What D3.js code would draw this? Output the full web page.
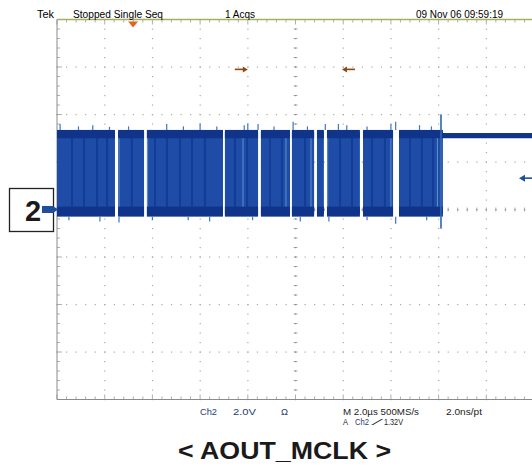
<!DOCTYPE html>
<html><head><meta charset="utf-8">
<script src="https://cdn.jsdelivr.net/npm/d3@7"></script>
<style>body{margin:0;background:#fff}svg{display:block}</style>
</head><body>
<svg id="c" width="532" height="467"></svg>
<script>
// ---- data ----
const timePerDiv = 2.0;          // µs/div
const voltsPerDiv = 2.0;         // V/div
const hDivs = 10, vDivs = 8;
// burst segments of the clock signal [start µs, end µs]
const bursts = [[0,2.43],[2.56,3.65],[3.77,6.96],[7.04,8.43],[8.55,9.77],[9.85,10.78],[10.90,11.19],[11.32,12.70],[12.83,14.09],[14.34,16.18]];
const highLevel = 3.25, lowLevel = -0.2;            // V
const highBand = [3.0, 3.35], lowBand = [-0.3, 0.12]; // noisy edge bands (V)
const idleLevel = [3.0, 3.22];                      // flat level after burst
const idleStart = 16.18;
// darker stripes (clustered edges) inside the bursts, µs
const stripes = [0.63,1.13,1.68,2.10,3.14,4.11,4.61,5.16,5.66,6.20,7.46,7.97,8.93,9.43,10.40,11.87,12.37,13.21,13.75,14.80,15.30,15.77];
// light streaks, µs
const lightStreaks = [2.60,3.80,7.80,9.60,10.65,11.35,14.00,15.95];
// overshoot spikes [µs, V]
const topSpikes = [[0.13,3.6],[0.9,3.5],[1.5,3.55],[2.2,3.48],[3.0,3.5],[4.6,3.6],[5.3,3.5],[6.0,3.62],[6.7,3.5],[7.85,3.55],[8.0,3.62],[8.43,3.6],[9.1,3.5],[9.9,3.7],[10.5,3.5],[11.25,3.6],[11.8,3.6],[12.15,3.55],[13.0,3.5],[14.0,3.6],[14.2,3.7],[15.2,3.55],[15.7,3.5],[16.1,4.0],[17.2,3.35],[18.6,3.35]];
const botSpikes = [[0.5,-0.45],[1.8,-0.5],[2.6,-0.55],[4.0,-0.45],[5.5,-0.45],[6.4,-0.5],[8.2,-0.45],[10.2,-0.5],[11.4,-0.5],[13.0,-0.45],[14.2,-0.6],[15.5,-0.45],[16.1,-0.8]];
const trigTime = 3.19;          // trigger position marker (µs)
const trigLevel = 1.32;         // V
const cursorArrows = [{t:8.0, v:5.9, dir:1},{t:11.95, v:5.9, dir:-1}];
const header = [
  {text:"Tek", x1:37, x2:54},
  {text:"Stopped  Single Seq", x1:73, x2:163},
  {text:"1 Acqs", x1:225, x2:255},
  {text:"09 Nov 06 09:59:19", x1:416, x2:503}
];
const footer1 = [
  {text:"Ch2", x1:200, x2:217, c:"#1f3c74"},
  {text:"2.0V", x1:233, x2:256, c:"#1f3c74"},
  {text:"Ω", x1:281, x2:288, c:"#1f3c74"},
  {text:"M 2.0µs 500MS/s", x1:343, x2:419, c:"#222"},
  {text:"2.0ns/pt", x1:446, x2:482, c:"#222"}
];
const footer2 = [
  {text:"A", x1:343, x2:348, c:"#222"},
  {text:"Ch2", x1:355, x2:369, c:"#1f3c74"},
  {text:"⁄", x1:376, x2:380, c:"#222"},
  {text:"1.32V", x1:384, x2:403, c:"#222"}
];
const title = "< AOUT_MCLK >";
const channelLabel = "2";

// ---- scales ----
const L = 57, T = 19.5, W = 477, H = 380;
const x = d3.scaleLinear().domain([0, hDivs*timePerDiv]).range([L, L+W]);
const y = d3.scaleLinear().domain([-vDivs/2*voltsPerDiv, vDivs/2*voltsPerDiv]).range([T+H, T]);
const svg = d3.select("#c");
const narrow = "'Liberation Sans Narrow','Arial Narrow','Liberation Sans',Arial,sans-serif";

// ---- graticule ----
const g = svg.append("g");
const dotCol = "#a8a8a8";
const xs = d3.range(0, hDivs*timePerDiv + 0.001, timePerDiv/5);
const ys = d3.range(-vDivs/2*voltsPerDiv, vDivs/2*voltsPerDiv + 0.001, voltsPerDiv/5);
d3.range(-3,4).forEach(k => {
  const v = k*voltsPerDiv;
  if (k===0) return;
  g.selectAll(null).data(xs).join("rect")
    .attr("x", d=>x(d)-0.5).attr("y", y(v)-0.5).attr("width",1.2).attr("height",1.2).attr("fill",dotCol);
});
d3.range(1,10).forEach(k => {
  const t = k*timePerDiv;
  if (k===5) return;
  g.selectAll(null).data(ys).join("rect")
    .attr("x", x(t)-0.5).attr("y", d=>y(d)-0.5).attr("width",1.2).attr("height",1.2).attr("fill",dotCol);
});
g.selectAll(null).data(xs).join("line")
  .attr("x1",d=>x(d)).attr("x2",d=>x(d)).attr("y1",y(0)-2).attr("y2",y(0)+2)
  .attr("stroke","#9a9a9a").attr("stroke-width",0.8);
g.selectAll(null).data(ys).join("line")
  .attr("y1",d=>y(d)).attr("y2",d=>y(d)).attr("x1",x(10)-2).attr("x2",x(10)+2)
  .attr("stroke","#9a9a9a").attr("stroke-width",0.8);
g.selectAll(null).data(xs).join("rect")
  .attr("x", d=>x(d)-0.5).attr("y", y(0)-0.5).attr("width",1.2).attr("height",1.2).attr("fill","#888");
g.selectAll(null).data(d3.range(-8,8.01,0.4)).join("rect")
  .attr("x", x(10)-0.5).attr("y", d=>y(d)-0.5).attr("width",1.2).attr("height",1.2).attr("fill","#888");
g.selectAll(null).data(xs).join("line")
  .attr("x1",d=>x(d)).attr("x2",d=>x(d)).attr("y1",y(-8)).attr("y2",d=> y(-8)-((Math.round(d/0.4))%5===0?5:3))
  .attr("stroke","#999").attr("stroke-width",0.8);
g.selectAll(null).data(xs).join("line")
  .attr("x1",d=>x(d)).attr("x2",d=>x(d)).attr("y1",y(8)).attr("y2",d=> y(8)+((Math.round(d/0.4))%5===0?5:3))
  .attr("stroke","#999").attr("stroke-width",0.8);
g.selectAll(null).data(ys).join("line")
  .attr("y1",d=>y(d)).attr("y2",d=>y(d)).attr("x1",x(0)).attr("x2",d=> x(0)+((Math.round((d+8)/0.4))%5===0?5:3))
  .attr("stroke","#999").attr("stroke-width",0.8);
g.append("line").attr("x1",x(0)).attr("x2",x(0)).attr("y1",y(8)).attr("y2",y(-8)).attr("stroke","#8a8a8a").attr("stroke-width",1);
g.append("line").attr("x1",x(0)).attr("x2",x(20)).attr("y1",y(-8)).attr("y2",y(-8)).attr("stroke","#8a8a8a").attr("stroke-width",1);
g.append("line").attr("x1",x(0)).attr("x2",532).attr("y1",y(8)).attr("y2",y(8)).attr("stroke","#a4b060").attr("stroke-width",1.6);

// ---- signal ----
const s = svg.append("g");
const fillCol = "#1e4ca6", edgeCol = "#0f3489";
s.selectAll(null).data(bursts).join("rect")
  .attr("x", d=>x(d[0])).attr("width", d=>x(d[1])-x(d[0]))
  .attr("y", y(highLevel)).attr("height", y(lowLevel)-y(highLevel))
  .attr("fill", fillCol);
s.selectAll(null).data(stripes).join("line")
  .attr("x1",d=>x(d)).attr("x2",d=>x(d)).attr("y1",y(highLevel)).attr("y2",y(lowLevel))
  .attr("stroke","#123d96").attr("stroke-width",2);
s.selectAll(null).data(lightStreaks).join("line")
  .attr("x1",d=>x(d)).attr("x2",d=>x(d)).attr("y1",y(highLevel)).attr("y2",y(lowLevel))
  .attr("stroke","#5f92d0").attr("stroke-width",1);
s.selectAll(null).data(bursts).join("rect")
  .attr("x", d=>x(d[0])).attr("width", d=>x(d[1])-x(d[0]))
  .attr("y", y(highBand[1])).attr("height", y(highBand[0])-y(highBand[1]))
  .attr("fill", edgeCol);
s.selectAll(null).data(bursts).join("rect")
  .attr("x", d=>x(d[0])).attr("width", d=>x(d[1])-x(d[0]))
  .attr("y", y(lowBand[1])).attr("height", y(lowBand[0])-y(lowBand[1]))
  .attr("fill", edgeCol);
s.append("rect").attr("x", x(idleStart)).attr("width", 532-x(idleStart))
  .attr("y", y(idleLevel[1])).attr("height", y(idleLevel[0])-y(idleLevel[1])).attr("fill", edgeCol);
s.selectAll(null).data(topSpikes).join("line")
  .attr("x1",d=>x(d[0])).attr("x2",d=>x(d[0])).attr("y1",y(highBand[1])).attr("y2",d=>y(d[1]))
  .attr("stroke","#3f76c0").attr("stroke-width",1.2);
s.selectAll(null).data(botSpikes).join("line")
  .attr("x1",d=>x(d[0])).attr("x2",d=>x(d[0])).attr("y1",y(lowBand[0])).attr("y2",d=>y(d[1]))
  .attr("stroke","#3f76c0").attr("stroke-width",1.2);
s.append("line").attr("x1",x(16.1)).attr("x2",x(16.1)).attr("y1",y(4.0)).attr("y2",y(-0.8))
  .attr("stroke","#3a6fb8").attr("stroke-width",1.3);

// ---- markers ----
const tx = x(trigTime);
svg.append("path").attr("d",`M${tx-5},${T+2}L${tx+5},${T+2}L${tx},${T+8}Z`).attr("fill","#e3651c");
cursorArrows.forEach(a => {
  const hx = x(a.t), yy = y(a.v), tail = hx - a.dir*13;
  svg.append("line").attr("x1",tail).attr("x2",hx - a.dir*3).attr("y1",yy).attr("y2",yy)
    .attr("stroke","#8a4a14").attr("stroke-width",1.6);
  svg.append("path").attr("d",`M${hx},${yy}L${hx-a.dir*5},${yy-3}L${hx-a.dir*5},${yy+3}Z`).attr("fill","#8a4a14");
});
const ty = y(trigLevel);
svg.append("line").attr("x1",524).attr("x2",532).attr("y1",ty).attr("y2",ty).attr("stroke","#1f4f9a").attr("stroke-width",1.6);
svg.append("path").attr("d",`M519,${ty}L525,${ty-3.5}L525,${ty+3.5}Z`).attr("fill","#1f4f9a");

// channel label box
svg.append("rect").attr("x",9.5).attr("y",188.5).attr("width",44).attr("height",43)
  .attr("fill","#fff").attr("stroke","#222").attr("stroke-width",1.3);
svg.append("text").attr("x",33).attr("y",y(0)+11).attr("text-anchor","middle")
  .attr("font-family","'Liberation Sans',Arial,sans-serif").attr("font-weight","bold").attr("font-size",29)
  .attr("fill","#1a1a1a").text(channelLabel);
svg.append("path").attr("d",`M42,${y(0)-3.5}L53,${y(0)-3.5}L58,${y(0)}L53,${y(0)+3.5}L42,${y(0)+3.5}Z`).attr("fill","#1f4f9a");

// ---- texts ----
const txt = (arr, yy, size, col) => svg.selectAll(null).data(arr).join("text")
  .attr("x", d=>d.x1).attr("y", yy).attr("font-family", narrow).attr("font-size", size)
  .attr("textLength", d=>d.x2-d.x1).attr("lengthAdjust","spacingAndGlyphs")
  .attr("fill", d=>d.c || col).text(d=>d.text);
txt(header, 18, 10, "#000");
txt(footer1, 414.5, 9.5, "#222");
txt(footer2, 424.5, 8.5, "#222");
svg.append("text").attr("x",178).attr("y",459).attr("font-family","'Liberation Sans',Arial,sans-serif")
  .attr("font-weight","bold").attr("font-size",23).attr("fill","#1a1a1a")
  .attr("textLength",213).attr("lengthAdjust","spacingAndGlyphs").text(title);
</script>
</body></html>
